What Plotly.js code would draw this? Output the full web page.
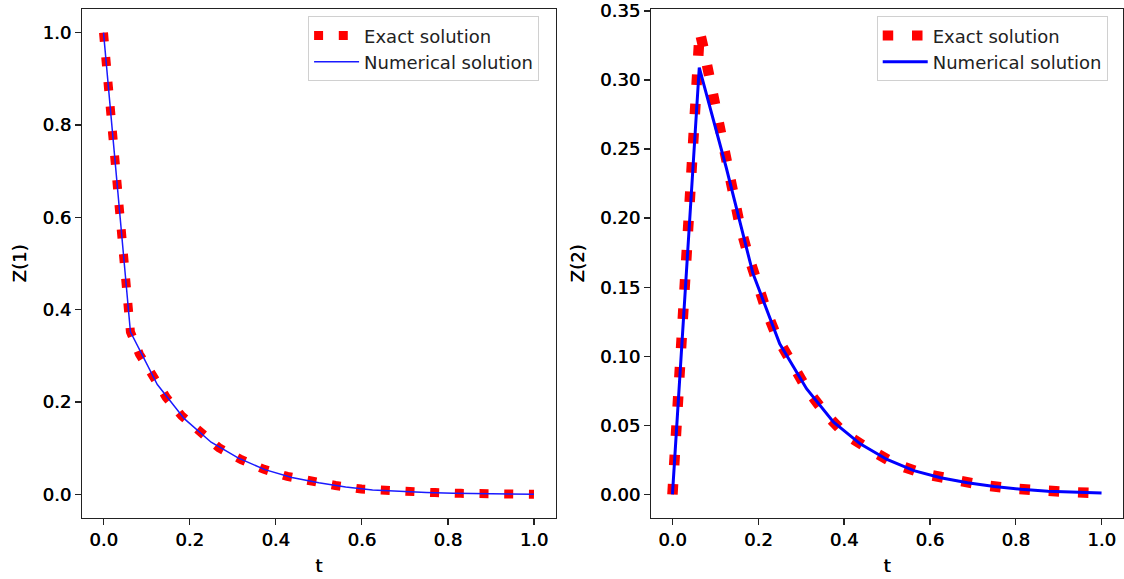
<!DOCTYPE html>
<html>
<head>
<meta charset="utf-8">
<script src="https://cdn.plot.ly/plotly-3.0.1.min.js"></script>
<style>
html,body{margin:0;padding:0;background:#fff;}
#chart{width:1124px;height:579px;}
</style>
</head>
<body>
<div id="chart"></div>
<script>
// ---- Data ----
// Left panel: Z(1)
const t1Exact = [0, 0.0155, 0.0309, 0.0471, 0.0625, 0.0835, 0.113, 0.1455, 0.1817, 0.2234, 0.268, 0.32, 0.373, 0.427, 0.482, 0.539, 0.599, 0.653, 0.714, 0.770, 0.830, 0.885, 0.944, 1.0];
const z1Exact = [1.0, 0.834, 0.672, 0.511, 0.352, 0.3035, 0.255, 0.2104, 0.170, 0.1338, 0.101, 0.0752, 0.0543, 0.039, 0.0278, 0.0193, 0.0116, 0.0077, 0.0054, 0.0039, 0.0023, 0.0015, 0.0008, 0.0004];
const t1Num = [0, 0.0625, 0.125, 0.1875, 0.25, 0.3125, 0.375, 0.4375, 0.5, 0.5625, 0.625, 0.6875, 0.75, 0.8125, 0.875, 0.9375, 1.0];
const z1Num = [1.0, 0.352, 0.238, 0.164, 0.113, 0.079, 0.0537, 0.0366, 0.0251, 0.0163, 0.0097, 0.0064, 0.0044, 0.0028, 0.0016, 0.0009, 0.0004];

// Right panel: Z(2)
const t2Exact = [0, 0.012, 0.024, 0.036, 0.048, 0.0635, 0.0731, 0.087, 0.1009, 0.1118, 0.1241, 0.1397, 0.1566, 0.1752, 0.1937, 0.2186, 0.2432, 0.278, 0.3128, 0.3555, 0.4019, 0.46, 0.5186, 0.5847, 0.6529, 0.722, 0.790, 0.858, 0.926, 1.0];
const z2Exact = [0, 0.065, 0.128, 0.190, 0.253, 0.335, 0.322, 0.301, 0.2795, 0.260, 0.2385, 0.2165, 0.1955, 0.1745, 0.155, 0.133, 0.114, 0.0935, 0.0763, 0.0589, 0.0437, 0.0325, 0.0222, 0.015, 0.010, 0.0068, 0.0043, 0.0025, 0.0017, 0.0009];
const t2Num = [0, 0.0625, 0.125, 0.1875, 0.25, 0.3125, 0.375, 0.4375, 0.5, 0.5625, 0.625, 0.6875, 0.75, 0.8125, 0.875, 0.9375, 1.0];
const z2Num = [0, 0.309, 0.237, 0.160, 0.109, 0.0765, 0.0525, 0.0366, 0.0253, 0.0172, 0.0121, 0.0084, 0.0058, 0.0037, 0.0023, 0.0016, 0.001];

// Tick labels
const tTicks = [0, 0.2, 0.4, 0.6, 0.8, 1.0];
const tTickText = ["0.0", "0.2", "0.4", "0.6", "0.8", "1.0"];
const z1Ticks = [0, 0.2, 0.4, 0.6, 0.8, 1.0];
const z1TickText = ["0.0", "0.2", "0.4", "0.6", "0.8", "1.0"];
const z2Ticks = [0, 0.05, 0.10, 0.15, 0.20, 0.25, 0.30, 0.35];
const z2TickText = ["0.00", "0.05", "0.10", "0.15", "0.20", "0.25", "0.30", "0.35"];

const seriesNames = ["Exact solution", "Numerical solution"];

// ---- Traces ----
const traces = [
  {x: t1Exact, y: z1Exact, xaxis: 'x', yaxis: 'y', mode: 'lines', name: seriesNames[0],
   line: {color: '#ff0000', width: 9, dash: '9px,15.7px'}, legend: 'legend'},
  {x: t1Num, y: z1Num, xaxis: 'x', yaxis: 'y', mode: 'lines', name: seriesNames[1],
   line: {color: '#1a1aff', width: 1.5}, legend: 'legend'},
  {x: t2Exact, y: z2Exact, xaxis: 'x2', yaxis: 'y2', mode: 'lines', name: seriesNames[0],
   line: {color: '#ff0000', width: 10.5, dash: '10.5px,18.8px'}, legend: 'legend2'},
  {x: t2Num, y: z2Num, xaxis: 'x2', yaxis: 'y2', mode: 'lines', name: seriesNames[1],
   line: {color: '#0000ff', width: 3}, legend: 'legend2'}
];

const FONT = 'DejaVu Sans, Liberation Sans, sans-serif';
const SHADOW = '0.5px 0 0 #000';
function axisBase() {
  return {
    showline: true, mirror: true, linecolor: '#222', linewidth: 1.3,
    ticks: 'outside', ticklen: 6, tickwidth: 1.3, tickcolor: '#222',
    showgrid: false, zeroline: false, fixedrange: true,
    tickfont: {family: FONT, size: 18, color: '#000', shadow: SHADOW}
  };
}
function titleFont() {
  return {family: FONT, size: 18, color: '#000', shadow: SHADOW};
}

const yDom = [0.1062, 0.9836];

const layout = {
  width: 1124, height: 579,
  margin: {l: 0, r: 0, t: 0, b: 0},
  paper_bgcolor: '#fff', plot_bgcolor: '#fff',
  font: {family: FONT, size: 18, color: '#000'},
  showlegend: true,
  xaxis: Object.assign(axisBase(), {
    domain: [0.07295, 0.49422], range: [-0.05, 1.05], anchor: 'y',
    tickvals: tTicks, ticktext: tTickText,
    title: {text: 't', font: titleFont(), standoff: 10}
  }),
  yaxis: Object.assign(axisBase(), {
    domain: yDom, range: [-0.05, 1.05], anchor: 'x',
    tickvals: z1Ticks, ticktext: z1TickText,
    title: {text: 'Z(1)', font: titleFont(), standoff: 11}
  }),
  xaxis2: Object.assign(axisBase(), {
    domain: [0.57918, 0.99911], range: [-0.05, 1.05], anchor: 'y2',
    tickvals: tTicks, ticktext: tTickText,
    title: {text: 't', font: titleFont(), standoff: 10}
  }),
  yaxis2: Object.assign(axisBase(), {
    domain: yDom, range: [-0.0167, 0.351], anchor: 'x2',
    tickvals: z2Ticks, ticktext: z2TickText,
    title: {text: 'Z(2)', font: titleFont(), standoff: 10}
  }),
  legend: {
    x: 0.2741, y: 0.9719, xanchor: 'left', yanchor: 'top',
    bgcolor: 'rgba(255,255,255,0.8)', bordercolor: '#d0d0d0', borderwidth: 1,
    font: {family: FONT, size: 18, color: '#222'}, itemwidth: 45
  },
  legend2: {
    x: 0.7800, y: 0.9719, xanchor: 'left', yanchor: 'top',
    bgcolor: 'rgba(255,255,255,0.8)', bordercolor: '#d0d0d0', borderwidth: 1,
    font: {family: FONT, size: 18, color: '#222'}, itemwidth: 45
  }
};

Plotly.newPlot('chart', traces, layout, {displayModeBar: false, staticPlot: true});
</script>
</body>
</html>
